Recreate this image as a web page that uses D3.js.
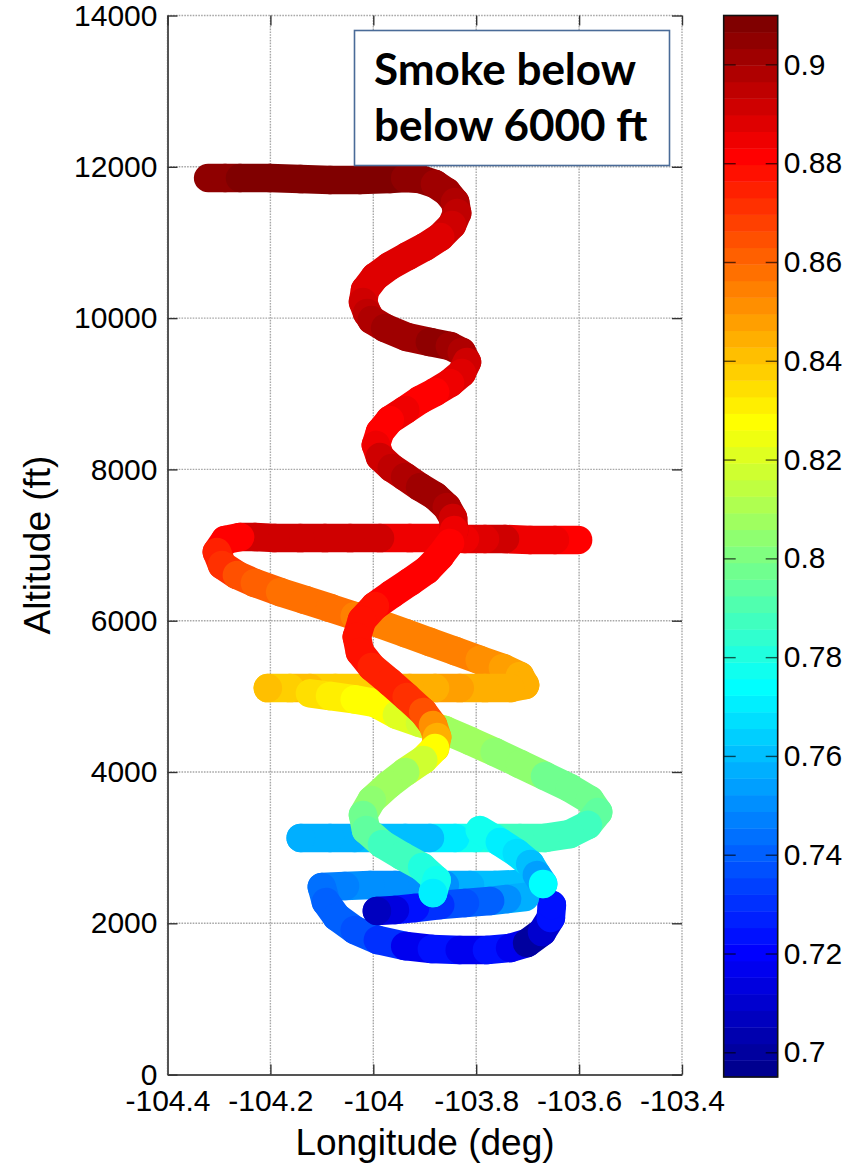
<!DOCTYPE html>
<html>
<head>
<meta charset="utf-8">
<script src="https://cdn.jsdelivr.net/npm/d3@7"></script>
<style>
  body { margin: 0; background: #fff; }
  svg { display: block; }
</style>
</head>
<body>
<svg width="851" height="1165"></svg>
<script>
// colour limits of the colorbar
var cmin = 0.695, cmax = 0.9099;

var lonTicks = [-104.4, -104.2, -104, -103.8, -103.6, -103.4];
var lonTickLabels = ['-104.4', '-104.2', '-104', '-103.8', '-103.6', '-103.4'];
var altTicks = [0, 2000, 4000, 6000, 8000, 10000, 12000, 14000];
var altTickLabels = ['0', '2000', '4000', '6000', '8000', '10000', '12000', '14000'];
var cbTicks = [0.7, 0.72, 0.74, 0.76, 0.78, 0.8, 0.82, 0.84, 0.86, 0.88, 0.9];
var cbTickLabels = ['0.7', '0.72', '0.74', '0.76', '0.78', '0.8', '0.82', '0.84', '0.86', '0.88', '0.9'];

// flight legs: [longitude, altitude (ft), value]
var leg7000 = [
  [-103.602,7067,.880],[-103.647,7067,.886],[-103.695,7067,.886],[-103.744,7080,.890],[-103.783,7080,.888],
  [-103.822,7080,.884],[-103.870,7093,.886],[-103.929,7093,.886],[-103.987,7093,.890],[-104.045,7093,.893],
  [-104.094,7093,.893],[-104.142,7093,.891],[-104.191,7093,.891],[-104.230,7106,.890],[-104.259,7106,.883],
  [-104.288,7067,.880],[-104.304,6908,.876],[-104.294,6736,.870],[-104.265,6604,.863],[-104.230,6498,.861],
  [-104.181,6379,.859],[-104.133,6274,.858],[-104.084,6168,.858],[-104.036,6062,.856],[-103.987,5957,.856],
  [-103.938,5837,.854],[-103.890,5719,.853],[-103.841,5600,.856],[-103.793,5481,.851],[-103.748,5375,.849],
  [-103.715,5269,.846],[-103.705,5150,.846],[-103.734,5110,.846],[-103.783,5110,.846],[-103.832,5110,.847],
  [-103.880,5110,.846],[-103.929,5110,.843],[-103.977,5110,.843],[-104.026,5110,.839],[-104.074,5110,.839],
  [-104.123,5110,.840],[-104.162,5110,.839],[-104.205,5110,.841]
];
var legDiag = [
  [-104.123,5040,.836],[-104.084,5005,.831],[-104.036,4960,.829],[-103.997,4912,.826],
  [-103.954,4754,.822],[-103.909,4648,.816],[-103.861,4555,.809],[-103.812,4410,.806],[-103.764,4264,.8025],
  [-103.715,4106,.8025],[-103.666,3947,.799],[-103.618,3789,.796],[-103.579,3630,.796],[-103.563,3471,.7925],
  [-103.583,3300,.789],[-103.618,3180,.789],[-103.666,3128,.786],[-103.715,3128,.786],[-103.764,3128,.782],
  [-103.802,3128,.776],[-103.841,3128,.769],[-103.890,3128,.762],[-103.938,3128,.759],[-103.987,3128,.759],
  [-104.036,3128,.757],[-104.084,3128,.7556],[-104.141,3128,.7556]
];
var legLoop = [
  [-103.715,2520,.762],[-103.764,2506,.759],[-103.812,2506,.7556],[-103.861,2506,.752],[-103.909,2506,.749],
  [-103.958,2506,.749],[-104.006,2506,.749],[-104.055,2493,.746],[-104.100,2480,.745],[-104.092,2282,.742],
  [-104.071,2083,.739],[-104.036,1911,.7353],[-103.991,1779,.7286],[-103.938,1699,.7153],[-103.886,1660,.7219],
  [-103.832,1647,.718],[-103.779,1647,.7219],[-103.734,1674,.7153],[-103.701,1740,.6984],[-103.672,1885,.709],
  [-103.655,2071,.7219],[-103.653,2242,.725]
];
var legLow = [
  [-103.705,2348,.7556],[-103.740,2322,.749],[-103.773,2295,.742],[-103.822,2269,.7353],[-103.870,2242,.7286],
  [-103.919,2202,.7219],[-103.958,2176,.712],[-103.993,2163,.708]
];
var legLink = [
  [-103.793,3233,.776],[-103.754,3075,.772],[-103.721,2930,.766],[-103.695,2784,.759],[-103.682,2639,.755],
  [-103.670,2520,.775]
];
var legSpiral = [
  [-104.321,11852,.906],[-104.288,11852,.906],[-104.259,11852,.909],[-104.201,11852,.909],[-104.142,11839,.909],
  [-104.084,11826,.909],[-104.026,11826,.909],[-103.968,11839,.909],[-103.938,11852,.906],[-103.909,11839,.905],
  [-103.880,11773,.903],[-103.857,11667,.900],[-103.841,11535,.898],[-103.837,11389,.896],[-103.847,11231,.893],
  [-103.870,11072,.889],[-103.900,10940,.889],[-103.933,10821,.889],[-103.968,10689,.889],[-103.997,10543,.889],
  [-104.016,10372,.888],[-104.020,10213,.890],[-104.012,10068,.894],[-104.003,9975,.8997],[-103.977,9869,.900],
  [-103.935,9750,.903],[-103.890,9684,.906],[-103.851,9631,.903],[-103.828,9552,.898],[-103.818,9420,.893],
  [-103.828,9274,.887],[-103.851,9142,.885],[-103.880,9023,.883],[-103.909,8918,.882],[-103.938,8785,.884],
  [-103.968,8653,.883],[-103.987,8495,.883],[-103.995,8323,.885],[-103.987,8164,.891],[-103.964,8019,.896],
  [-103.938,7900,.899],[-103.909,7767,.903],[-103.880,7649,.903],[-103.857,7503,.897],[-103.845,7358,.893],
  [-103.843,7199,.886],[-103.851,7027,.883],[-103.870,6855,.883],[-103.896,6670,.883],[-103.929,6512,.881],
  [-103.964,6353,.880],[-103.997,6195,.877],[-104.022,6009,.877],[-104.032,5785,.877],[-104.026,5586,.877],
  [-104.003,5388,.876],[-103.968,5190,.874],[-103.935,4992,.872],[-103.903,4793,.863],[-103.884,4621,.852],
  [-103.876,4463,.843],[-103.880,4317,.829],[-103.903,4159,.818],[-103.938,4000,.809],[-103.971,3828,.806],
  [-104.003,3630,.8025],[-104.020,3432,.796],[-104.014,3233,.793],[-103.983,3048,.789],[-103.944,2890,.786],
  [-103.905,2744,.782],[-103.877,2572,.776],[-103.884,2401,.769]
];
var legs = [leg7000, legDiag, legLoop, legLow, legLink, legSpiral];

// MATLAB jet(64)
function jet(m) {
  var n = Math.ceil(m / 4), u = [], i;
  for (i = 1; i <= n; i++) u.push(i / n);
  for (i = 1; i < n; i++) u.push(1);
  for (i = n; i >= 1; i--) u.push(i / n);
  var g0 = Math.ceil(n / 2) - (m % 4 === 1 ? 1 : 0);
  var J = d3.range(m).map(function () { return [0, 0, 0]; });
  u.forEach(function (val, k) {
    var g = g0 + k + 1, r = g + n, b = g - n;
    if (g >= 1 && g <= m) J[g - 1][1] = val;
    if (r >= 1 && r <= m) J[r - 1][0] = val;
    if (b >= 1 && b <= m) J[b - 1][2] = val;
  });
  return J.map(function (c) { return d3.rgb(c[0] * 255, c[1] * 255, c[2] * 255).formatHex(); });
}
var cmap = jet(64);
var colorIdx = d3.scaleQuantize().domain([cmin, cmax]).range(d3.range(64));
function colorOf(v) {
  return cmap[colorIdx(Math.max(cmin, Math.min(cmax, v)))];
}

var svg = d3.select('svg');
var x = d3.scaleLinear().domain([-104.4, -103.4]).range([167.5, 682]);
var y = d3.scaleLinear().domain([0, 14000]).range([1074.6, 15.5]);
var cy = d3.scaleLinear().domain([cmin, cmax]).range([1077, 15.5]);

var FONT = '"Liberation Sans", Arial, sans-serif';

// grid
var grid = svg.append('g').attr('stroke', '#a8a8a8').attr('stroke-width', 1.4).attr('stroke-dasharray', '1.6,1.2');
grid.selectAll('line.gx').data(lonTicks).enter().append('line')
  .attr('x1', function (d) { return x(d); }).attr('x2', function (d) { return x(d); })
  .attr('y1', y(0)).attr('y2', y(14000));
grid.selectAll('line.gy').data(altTicks).enter().append('line')
  .attr('y1', function (d) { return y(d); }).attr('y2', function (d) { return y(d); })
  .attr('x1', x(-104.4)).attr('x2', x(-103.4));

// flight track, thick round-capped segments coloured by value
var R = 14.3;
legs.forEach(function (leg) {
  var g = svg.append('g');
  g.selectAll('line').data(d3.pairs(leg)).enter().append('line')
    .attr('x1', function (p) { return x(p[0][0]); })
    .attr('y1', function (p) { return y(p[0][1]); })
    .attr('x2', function (p) { return x(p[1][0]); })
    .attr('y2', function (p) { return y(p[1][1]); })
    .attr('stroke', function (p) { return colorOf(p[0][2]); })
    .attr('stroke-width', 2 * R)
    .attr('stroke-linecap', 'round');
  var last = leg[leg.length - 1];
  g.append('circle').attr('cx', x(last[0])).attr('cy', y(last[1])).attr('r', R).attr('fill', colorOf(last[2]));
});

// axes
function styleAxis(g) {
  g.attr('font-family', FONT).attr('font-size', 30);
  g.selectAll('text').attr('fill', '#000');
  g.selectAll('.tick line').attr('stroke', '#333').attr('stroke-width', 1.4);
}
svg.append('g').attr('transform', 'translate(0,' + y(0) + ')')
  .call(d3.axisBottom(x).tickValues(lonTicks)
    .tickFormat(function (d, i) { return lonTickLabels[i]; })
    .tickSizeInner(-10).tickSizeOuter(0).tickPadding(15))
  .call(styleAxis)
  .call(function (g) { g.select('.domain').attr('stroke', '#555').attr('stroke-width', 2); });
svg.append('g').attr('transform', 'translate(' + x(-104.4) + ',0)')
  .call(d3.axisLeft(y).tickValues(altTicks)
    .tickFormat(function (d, i) { return altTickLabels[i]; })
    .tickSizeInner(-10).tickSizeOuter(0).tickPadding(10))
  .call(styleAxis)
  .call(function (g) { g.select('.domain').attr('stroke', '#555').attr('stroke-width', 2); });
svg.append('g').attr('transform', 'translate(0,' + y(14000) + ')')
  .call(d3.axisTop(x).tickValues(lonTicks).tickFormat('').tickSizeInner(-10).tickSizeOuter(0))
  .call(styleAxis)
  .call(function (g) { g.select('.domain').remove(); });
svg.append('g').attr('transform', 'translate(' + x(-103.4) + ',0)')
  .call(d3.axisRight(y).tickValues(altTicks).tickFormat('').tickSizeInner(-10).tickSizeOuter(0))
  .call(styleAxis)
  .call(function (g) { g.select('.domain').remove(); });

// axis titles
svg.append('text').attr('x', 425).attr('y', 1155).attr('text-anchor', 'middle')
  .attr('font-family', FONT).attr('font-size', 37).text('Longitude (deg)');
svg.append('text').attr('transform', 'translate(50,545) rotate(-90)').attr('text-anchor', 'middle')
  .attr('font-family', FONT).attr('font-size', 37).text('Altitude (ft)');

// colorbar
var cbX0 = 723.7, cbX1 = 777.7;
var bandW = (cmax - cmin) / 64;
svg.append('g').selectAll('rect').data(cmap).enter().append('rect')
  .attr('x', cbX0).attr('width', cbX1 - cbX0)
  .attr('y', function (c, i) { return cy(cmin + (i + 1) * bandW); })
  .attr('height', function (c, i) { return cy(cmin + i * bandW) - cy(cmin + (i + 1) * bandW) + 0.4; })
  .attr('fill', function (c) { return c; });
svg.append('g').attr('transform', 'translate(' + cbX1 + ',0)')
  .call(d3.axisRight(cy).tickValues(cbTicks)
    .tickFormat(function (d, i) { return cbTickLabels[i]; })
    .tickSizeInner(-12).tickSizeOuter(0).tickPadding(6))
  .call(styleAxis)
  .call(function (g) { g.select('.domain').remove(); g.selectAll('.tick line').attr('stroke', '#000').attr('stroke-opacity', 0.65); });
svg.append('g').attr('transform', 'translate(' + cbX0 + ',0)')
  .call(d3.axisLeft(cy).tickValues(cbTicks).tickFormat('').tickSizeInner(-12).tickSizeOuter(0))
  .call(styleAxis)
  .call(function (g) { g.select('.domain').remove(); g.selectAll('.tick line').attr('stroke', '#000').attr('stroke-opacity', 0.65); });
svg.append('rect').attr('x', cbX0).attr('y', cy(cmax)).attr('width', cbX1 - cbX0)
  .attr('height', cy(cmin) - cy(cmax)).attr('fill', 'none').attr('stroke', '#111').attr('stroke-width', 1.6);

// annotation box
svg.append('rect').attr('x', 354.5).attr('y', 30.5).attr('width', 315).attr('height', 135)
  .attr('fill', '#fff').attr('stroke', '#4a6b98').attr('stroke-width', 1.6);
var note = svg.append('text').attr('font-family', 'Lato, "Open Sans", sans-serif')
  .attr('font-weight', 'bold').attr('font-size', 44).attr('fill', '#000');
note.append('tspan').attr('x', 374).attr('y', 85).text('Smoke below');
note.append('tspan').attr('x', 374).attr('y', 141).text('below 6000 ft');
</script>
</body>
</html>
